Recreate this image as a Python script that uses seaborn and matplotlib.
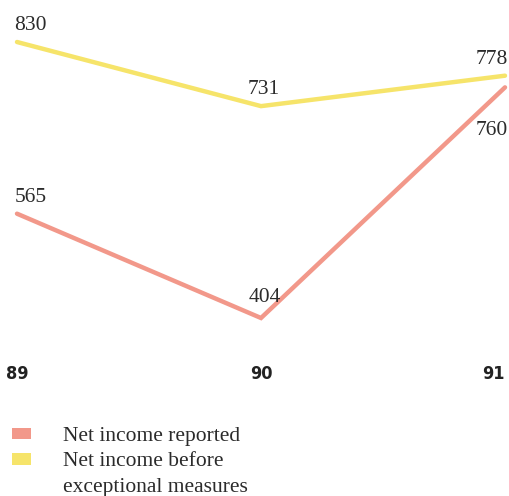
import matplotlib
matplotlib.use("Agg")
import matplotlib.pyplot as plt
import pandas as pd
import seaborn as sns
from matplotlib.patches import Patch

years = [89, 90, 91]
year_labels = ["89", "90", "91"]
net_income_reported = [565, 404, 760]
net_income_before_exceptional = [830, 731, 778]
series_names = ["Net income reported", "Net income before exceptional measures"]
legend_lines = ["Net income reported", "Net income before", "exceptional measures"]
colors = ["#F2988A", "#F6E46A"]

df = pd.DataFrame({
    "year": years * 2,
    "value": net_income_reported + net_income_before_exceptional,
    "series": [series_names[0]] * 3 + [series_names[1]] * 3,
})

sns.set_style("white")
plt.rcParams["font.family"] = ["Liberation Serif", "DejaVu Serif"]

fig = plt.figure(figsize=(5.1, 4.96), dpi=100)
ax = fig.add_axes([17 / 510, 1 - 318 / 496, 488 / 510, 276 / 496])

sns.lineplot(data=df, x="year", y="value", hue="series", palette=colors,
             linewidth=3.2, legend=False, ax=ax)
for line in ax.lines:
    line.set_clip_on(False)
    line.set_solid_joinstyle("miter")

ax.set_xlim(89, 91)
ax.set_ylim(404, 830)
sns.despine(ax=ax, left=True, bottom=True)
ax.set_yticks([])
ax.set_xlabel("")
ax.set_ylabel("")
ax.set_xticks(years)
ax.set_xticklabels(year_labels, fontsize=13, fontweight="bold", fontstretch="condensed",
                   family=["DejaVu Sans"], color="#222222")
ax.tick_params(axis="x", length=0, pad=34)
ax.get_xticklabels()[2].set_horizontalalignment("right")

txt = dict(fontsize=15.5, color="#2b2b2b", textcoords="offset points")
# value labels, offsets in points
ax.annotate("830", (89, 830), xytext=(-2, 5), ha="left", va="bottom", **txt)
ax.annotate("731", (90, 731), xytext=(2, 5), ha="center", va="bottom", **txt)
ax.annotate("778", (91, 778), xytext=(2, 5), ha="right", va="bottom", **txt)
ax.annotate("565", (89, 565), xytext=(-2, 5), ha="left", va="bottom", **txt)
ax.annotate("404", (90, 404), xytext=(3, 8), ha="center", va="bottom", **txt)
ax.annotate("760", (91, 760), xytext=(2, -24), ha="right", va="top", **txt)

# second series label wraps onto a third row with no swatch
handles = [Patch(facecolor=colors[0], edgecolor="none"),
           Patch(facecolor=colors[1], edgecolor="none"),
           Patch(facecolor="none", edgecolor="none")]
leg = fig.legend(handles, legend_lines, loc="upper left",
                 bbox_to_anchor=(12 / 510, 1 - 427 / 496),
                 frameon=False, fontsize=15.5, handlelength=0.9, handleheight=0.45,
                 handletextpad=1.45, labelspacing=0.3, borderpad=0, borderaxespad=0,
                 labelcolor="#2b2b2b")

fig.savefig("out.png", dpi=100)
